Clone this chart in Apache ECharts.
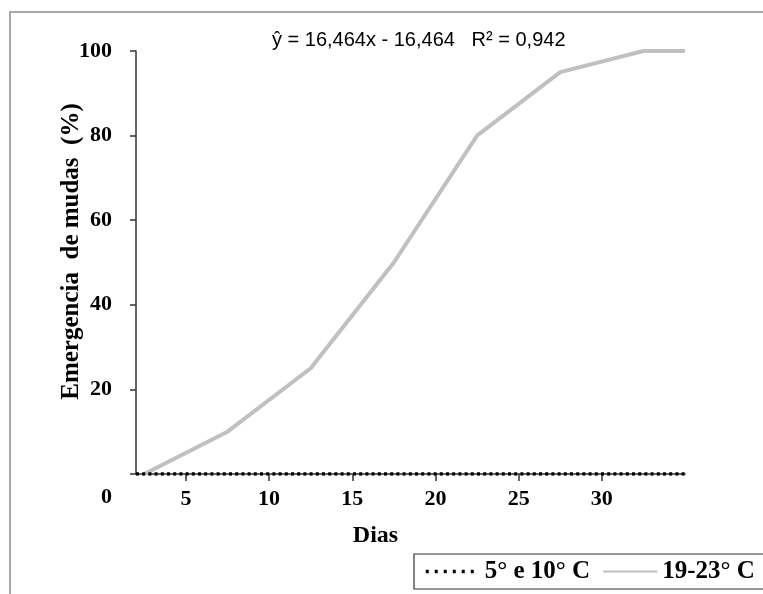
<!DOCTYPE html>
<html>
<head>
<meta charset="utf-8">
<script src="https://cdn.jsdelivr.net/npm/echarts@6/dist/echarts.min.js"></script>
<style>
  html, body { margin: 0; padding: 0; background: #fff; }
  #chart { width: 763px; height: 594px; }
</style>
</head>
<body>
<div id="chart"></div>
<script>
// dias e emergencia (%)
const diasQuente = [2.5, 7.5, 12.5, 17.5, 22.5, 27.5, 32.5, 35]
const emergQuente = [0, 10, 25, 50, 80, 95, 100, 100]
const diasFrio = [2, 5, 10, 15, 20, 25, 30, 35]
const emergFrio = [0, 0, 0, 0, 0, 0, 0, 0]
const xTicks = [5, 10, 15, 20, 25, 30]

const serif = 'Liberation Serif'
const myChart = echarts.init(document.getElementById('chart'))

let option = {
  animation: false,
  grid: { left: 136, right: 78, top: 51, bottom: 120 },
  xAxis: {
    type: 'value',
    min: 2,
    max: 35,
    name: 'Dias',
    nameLocation: 'middle',
    nameGap: 50,
    nameMoveOverlap: false,
    nameTextStyle: { fontFamily: serif, fontWeight: 'bold', fontSize: 24, color: '#000', padding: [0, 70, 0, 0] },
    splitLine: { show: false },
    axisLine: { onZero: false, lineStyle: { color: '#333', width: 1.5 } },
    axisTick: { length: 7, customValues: xTicks, lineStyle: { color: '#333', width: 1.5 } },
    axisLabel: {
      customValues: xTicks,
      margin: 14,
      fontFamily: serif, fontWeight: 'bold', fontSize: 22, color: '#000'
    }
  },
  yAxis: {
    type: 'value',
    min: 0,
    max: 100,
    interval: 20,
    name: 'Emergencia  de mudas  (%)',
    nameLocation: 'middle',
    nameGap: 52,
    nameMoveOverlap: false,
    nameTextStyle: { fontFamily: serif, fontWeight: 'bold', fontSize: 25, color: '#000', padding: [0, 0, 0, 22] },
    splitLine: { show: false },
    axisLine: { show: true, lineStyle: { color: '#333', width: 1.5 } },
    axisTick: { show: true, length: 6, lineStyle: { color: '#333', width: 1.5 } },
    axisLabel: {
      margin: 24,
      fontFamily: serif, fontWeight: 'bold', fontSize: 22, color: '#000',
      formatter: v => v === 0 ? '' : v
    }
  },
  legend: {
    left: 414,
    top: 554,
    width: 420,
    orient: 'horizontal',
    padding: [5, 30, 5, 10],
    itemWidth: 54,
    itemHeight: 14,
    itemGap: 12,
    borderColor: '#333',
    borderWidth: 1.2,
    itemStyle: { opacity: 0 },
    textStyle: { fontFamily: serif, fontWeight: 'bold', fontSize: 25, color: '#000' },
    data: [
      { name: '5° e 10° C', lineStyle: { width: 3.5, type: [3, 6] } },
      { name: '19-23° C' }
    ]
  },
  series: [
    {
      name: '5° e 10° C',
      type: 'line',
      data: diasFrio.map((d, i) => [d, emergFrio[i]]),
      symbol: 'none',
      z: 3,
      lineStyle: { color: '#000', width: 3.5, type: [3, 3.2] }
    },
    {
      name: '19-23° C',
      type: 'line',
      data: diasQuente.map((d, i) => [d, emergQuente[i]]),
      symbol: 'none',
      z: 2,
      lineStyle: { color: '#c0c0c0', width: 4 }
    }
  ],
  graphic: [
    {
      type: 'rect',
      silent: true,
      shape: { x: 10, y: 12, width: 800, height: 700 },
      style: { fill: 'none', stroke: '#a8a8a8', lineWidth: 2 }
    },
    {
      type: 'text',
      left: 272,
      top: 30,
      style: {
        text: 'ŷ = 16,464x - 16,464   R² = 0,942',
        font: '20px "Liberation Sans", sans-serif',
        fill: '#000'
      }
    },
    {
      type: 'text',
      left: 101,
      top: 486,
      style: {
        text: '0',
        font: 'bold 22px "Liberation Serif", serif',
        fill: '#000'
      }
    }
  ]
}

myChart.setOption(option)
</script>
</body>
</html>
